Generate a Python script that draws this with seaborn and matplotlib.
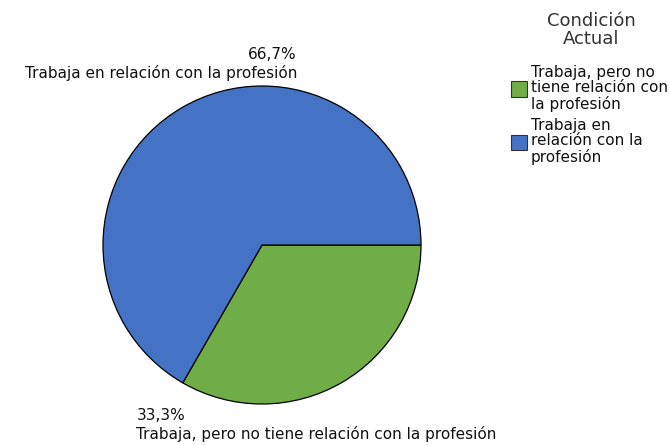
import matplotlib
matplotlib.use("Agg")
import matplotlib.pyplot as plt
import seaborn as sns
from matplotlib.patches import Patch

sns.set_theme(style="white")
plt.rcParams['font.family'] = ['DejaVu Sans']

categories = ["Trabaja, pero no tiene relación con la profesión",
              "Trabaja en relación con la profesión"]
legend_labels = ["Trabaja, pero no\ntiene relación con\nla profesión",
                 "Trabaja en\nrelación con la\nprofesión"]
legend_title = "Condición\nActual"
values = [33.3, 66.7]
pct_labels = ["33,3%", "66,7%"]
colors = ["#70AD47", "#4472C4"]

W, H = 670, 445
cx, cy, r = 262, 245, 159
fig = plt.figure(figsize=(W / 100, H / 100), dpi=100)
ax = fig.add_axes([0, 0, 1, 1])
ax.pie(values, colors=colors, startangle=0, counterclock=False, radius=1,
       wedgeprops=dict(edgecolor="black", linewidth=0.9))
ax.set_xlim(-cx / r, (W - cx) / r)
ax.set_ylim(-(H - cy) / r, cy / r)
ax.set_aspect('auto')
ax.axis('off')

fs = 11
# Labels for the blue slice (top)
ax.text(0.22, 1.195, pct_labels[1], ha='right', va='center', fontsize=fs, color='#111111')
ax.text(0.22, 1.08, categories[1], ha='right', va='center', fontsize=fs, color='#111111')
# Labels for the green slice (bottom)
ax.text(-0.79, -1.07, pct_labels[0], ha='left', va='center', fontsize=fs, color='#111111')
ax.text(-0.79, -1.19, categories[0], ha='left', va='center', fontsize=fs, color='#111111')

# Legend title
fig.text(591 / W, 1 - 30 / H, legend_title, ha='center', va='center',
         fontsize=13, color='#333333', linespacing=1.05, multialignment='center')

handles = [Patch(facecolor=c, edgecolor='#333333', linewidth=0.8) for c in colors]
leg = fig.legend(handles, legend_labels,
                 loc='upper left', bbox_to_anchor=(500 / W, 1 - 54 / H),
                 frameon=False, fontsize=fs,
                 handlelength=1.05, handleheight=1.15, handletextpad=0.25,
                 labelspacing=0.4, borderpad=0.2)
for t in leg.get_texts():
    t.set_linespacing(1.04)
    t.set_color('#111111')

fig.savefig("out.png", dpi=100)
